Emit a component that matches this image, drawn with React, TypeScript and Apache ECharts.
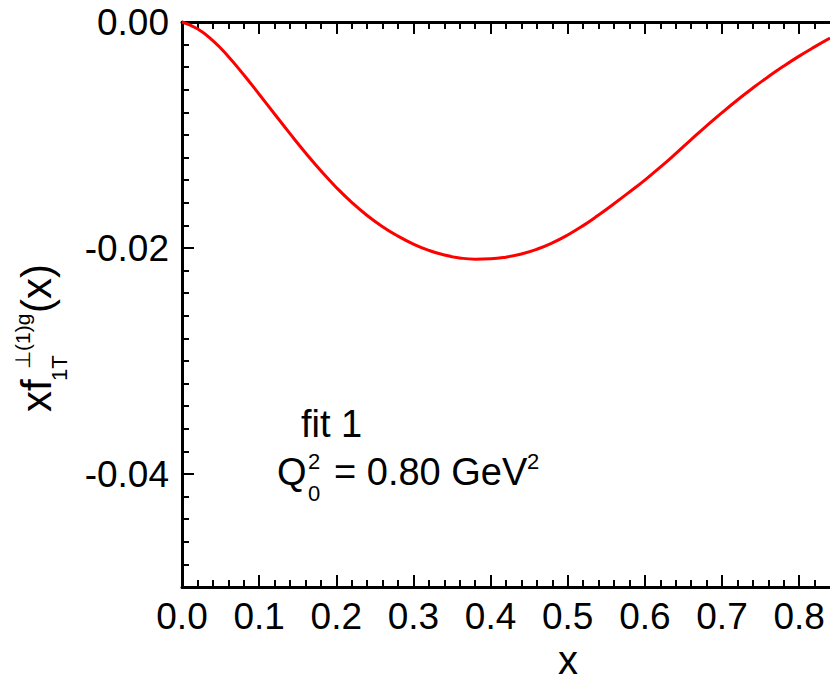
import React, { useEffect, useRef } from "react";
import * as echarts from "echarts";

const xValues = [
  0, 0.02, 0.04, 0.06, 0.08, 0.1, 0.12, 0.14, 0.16, 0.18, 0.2, 0.22, 0.24, 0.26, 0.28, 0.3,
  0.32, 0.34, 0.36, 0.38, 0.4, 0.42, 0.44, 0.46, 0.48, 0.5, 0.52, 0.54, 0.56, 0.58, 0.6, 0.62,
  0.64, 0.66, 0.68, 0.7, 0.72, 0.74, 0.76, 0.78, 0.8, 0.82, 0.84,
];
const yValues = [
  0, -0.0006, -0.00165, -0.00305, -0.00467, -0.00639, -0.00814, -0.00988, -0.01157, -0.01317,
  -0.01464, -0.01596, -0.01712, -0.01811, -0.01895, -0.01965, -0.02021, -0.02062, -0.02088,
  -0.02099, -0.02096, -0.02081, -0.02053, -0.02011, -0.01955, -0.01885, -0.01802, -0.01708,
  -0.01608, -0.01505, -0.01399, -0.01285, -0.01165, -0.01041, -0.00919, -0.00802, -0.0069,
  -0.00584, -0.00484, -0.0039, -0.00302, -0.0022, -0.00142,
];
const xTickLabels = [0, 0.1, 0.2, 0.3, 0.4, 0.5, 0.6, 0.7, 0.8];
const yTickLabels = [0, -0.02, -0.04];

const FONT = "'Liberation Sans', Arial, Helvetica, sans-serif";

export default function App() {
  const ref = useRef<HTMLDivElement>(null);
  useEffect(() => {
    if (!ref.current) return;
    const chart = echarts.init(ref.current, undefined, { renderer: "svg" });
    const black = "#000";
    const line = { show: true, onZero: false, lineStyle: { color: black, width: 3 } };
    const xAxisBase = (pos: string, showLabel: boolean) => ({
      type: "value",
      position: pos,
      min: 0,
      max: 0.84,
      interval: 0.1,
      axisLine: line,
      axisTick: {
        show: true,
        inside: true,
        length: 12,
        customValues: xTickLabels,
        lineStyle: { color: black, width: 2 },
      },
      minorTick: { show: true, splitNumber: 5, length: 7, lineStyle: { color: black, width: 2 } },
      axisLabel: {
        show: showLabel,
        customValues: xTickLabels,
        formatter: (v: number) => v.toFixed(1),
        fontSize: 37,
        lineHeight: 34,
        fontFamily: FONT,
        color: black,
        margin: 12.5,
      },
      splitLine: { show: false },
      minorSplitLine: { show: false },
    });
    const data = xValues.map((x, i) => [x, yValues[i]]);
    const txt = (x: number, y: number, text: string, size: number, align = "left") => ({
      type: "text",
      x,
      y,
      style: {
        text,
        fontSize: size,
        fontFamily: FONT,
        fill: black,
        align,
        verticalAlign: "middle",
      },
    });
    chart.setOption({
      animation: false,
      backgroundColor: "#fff",
      grid: { left: 182, top: 22, right: 0, bottom: 96 },
      xAxis: [xAxisBase("bottom", true), xAxisBase("top", false)],
      yAxis: [
        {
          type: "value",
          position: "left",
          min: -0.05,
          max: 0,
          interval: 0.002,
          axisLine: line,
          axisTick: { show: true, inside: true, length: 7, lineStyle: { color: black, width: 2 } },
          axisLabel: {
            customValues: yTickLabels,
            formatter: (v: number) => v.toFixed(2),
            fontSize: 37,
            fontFamily: FONT,
            color: black,
            margin: 13,
          },
          splitLine: { show: false },
        },
        {
          type: "value",
          position: "left",
          min: -0.05,
          max: 0,
          interval: 0.01,
          axisLine: { show: false, onZero: false },
          axisTick: {
            show: true,
            inside: true,
            length: 12,
            customValues: yTickLabels,
            lineStyle: { color: black, width: 2 },
          },
          axisLabel: { show: false },
          splitLine: { show: false },
        },
      ],
      series: [
        {
          type: "line",
          xAxisIndex: 0,
          yAxisIndex: 0,
          data,
          showSymbol: false,
          smooth: true,
          lineStyle: { color: "#ff0000", width: 3 },
          itemStyle: { color: "#ff0000" },
        },
      ],
      graphic: [
        {
          type: "group",
          x: 51,
          y: 412,
          rotation: Math.PI / 2,
          children: [
            txt(0, -14.6, "xf", 42),
            txt(31, 8, "1T", 22),
            txt(43, -28.5, "⊥(1)g", 21),
            txt(99, -14.6, "(x)", 42),
          ],
        },
        txt(568, 660, "x", 40, "center"),
        txt(301, 424, "fit 1", 38),
        txt(277, 472, "Q", 38),
        txt(308, 461, "2", 22),
        txt(308, 493, "0", 22),
        txt(334, 472, "= 0.80 GeV", 38),
        txt(527, 461, "2", 22),
      ],
    });
    return () => chart.dispose();
  }, []);
  return (
    <div
      ref={ref}
      style={{ position: "fixed", left: 0, top: 0, width: 830, height: 683, background: "#fff" }}
    />
  );
}
